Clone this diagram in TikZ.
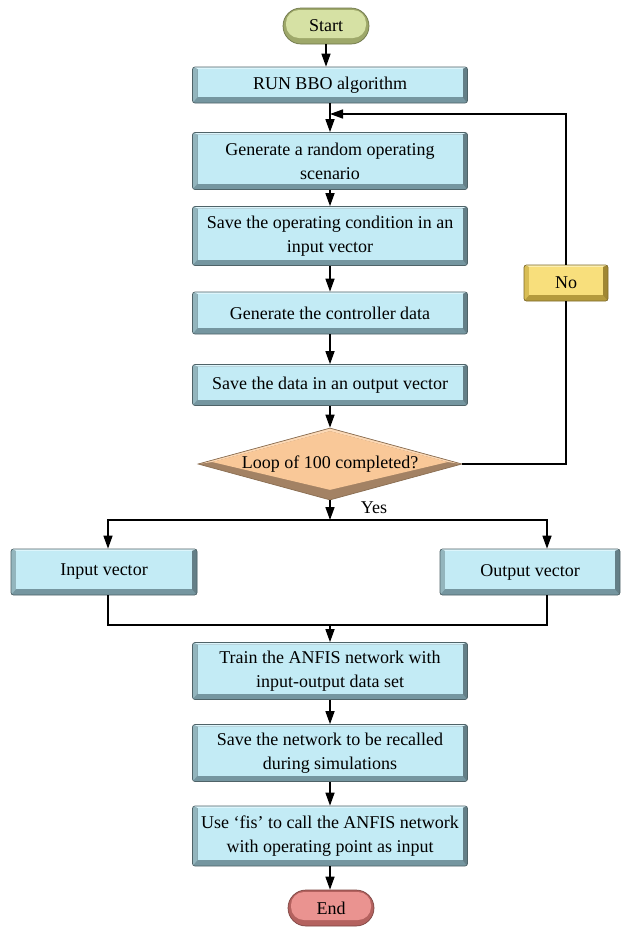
\documentclass[tikz,border=0pt]{standalone}
\usepackage{fontspec}
\setmainfont{Liberation Serif}
\usetikzlibrary{calc,shapes.geometric,shapes.misc,arrows.meta}

% palette
\definecolor{cyanface}{HTML}{C3EBF5}
\definecolor{cyantop}{HTML}{DDF5FB}
\definecolor{cyanleft}{HTML}{93B5BD}
\definecolor{cyanright}{HTML}{647F87}
\definecolor{cyanbottom}{HTML}{7596A0}
\definecolor{cyanedge}{HTML}{4F6368}
\definecolor{yelface}{HTML}{F8DF7C}
\definecolor{yeltop}{HTML}{FCEFB2}
\definecolor{yelleft}{HTML}{D8BD55}
\definecolor{yelright}{HTML}{A08733}
\definecolor{yelbottom}{HTML}{B49A3D}
\definecolor{yeledge}{HTML}{7E6A2A}
\definecolor{diaface}{HTML}{F9C898}
\definecolor{diatop}{HTML}{FCD9B6}
\definecolor{diabottom}{HTML}{A38264}
\definecolor{diaedge}{HTML}{8A6E52}
\definecolor{startface}{HTML}{D6E1A4}
\definecolor{startdark}{HTML}{9EA86A}
\definecolor{startedge}{HTML}{6E7648}
\definecolor{endface}{HTML}{EA9390}
\definecolor{enddark}{HTML}{B4625F}
\definecolor{endedge}{HTML}{7E4441}

\tikzset{
  x=1pt, y=-1pt,
  every node/.style={font=\fontsize{18}{24}\selectfont, align=center, inner sep=0pt},
  % bevelled process box: face, top, left, right, bottom, outline
  bevelbox/.style n args={6}{rectangle, rounded corners=2.5pt, draw=#6, line width=0.7pt,
    fill=#5, minimum width=275pt,
    path picture={
      \path (path picture bounding box.north west) coordinate (pNW)
            (path picture bounding box.north east) coordinate (pNE)
            (path picture bounding box.south west) coordinate (pSW)
            (path picture bounding box.south east) coordinate (pSE);
      \fill[#2, sharp corners] (pNW) -- (pNE) -- ([shift={(-5pt,-2pt)}]pNE) -- ([shift={(5pt,-2pt)}]pNW) -- cycle;
      \fill[#3, sharp corners] (pNW) -- (pSW) -- ([shift={(5pt,6pt)}]pSW) -- ([shift={(5pt,-2pt)}]pNW) -- cycle;
      \fill[#4, sharp corners] (pNE) -- (pSE) -- ([shift={(-5pt,6pt)}]pSE) -- ([shift={(-5pt,-2pt)}]pNE) -- cycle;
      \fill[#1, sharp corners] ([shift={(5pt,-2pt)}]pNW) rectangle ([shift={(-5pt,6pt)}]pSE);
    }},
  procbox/.style={bevelbox={cyanface}{cyantop}{cyanleft}{cyanright}{cyanbottom}{cyanedge}},
  nobox/.style={bevelbox={yelface}{yeltop}{yelleft}{yelright}{yelbottom}{yeledge},
    minimum width=84pt, minimum height=36pt},
  % rounded terminal: face, dark rim, outline
  terminal/.style n args={3}{rounded rectangle, draw=#3, line width=0.7pt, fill=#2,
    minimum width=86pt, minimum height=36pt,
    path picture={
      \fill[#1, rounded corners=13pt] ([shift={(3pt,-2pt)}]path picture bounding box.north west)
        rectangle ([shift={(-3pt,6pt)}]path picture bounding box.south east);
    }},
  decision/.style={diamond, aspect=3.67, draw=diaedge, line width=0.7pt, fill=diabottom,
    minimum width=264pt, minimum height=72pt,
    path picture={
      \path (path picture bounding box.north) coordinate (dN)
            (path picture bounding box.south) coordinate (dS)
            (path picture bounding box.east) coordinate (dE)
            (path picture bounding box.west) coordinate (dW);
      \fill[diatop] (dW) -- (dN) -- (dE) -- ([shift={(-14pt,2pt)}]dE) -- ([yshift=-3pt]dN) -- ([shift={(14pt,2pt)}]dW) -- cycle;
      \fill[diaface] ([shift={(14pt,2pt)}]dW) -- ([yshift=-3pt]dN) -- ([shift={(-14pt,2pt)}]dE) -- ([yshift=10pt]dS) -- cycle;
    }},
  link/.style={line width=1.5pt, draw=black},
  flow/.style={link, -{Triangle[length=13pt,width=9pt]}},
}

\begin{document}
\begin{tikzpicture}
  \useasboundingbox[fill=white] (0,0) rectangle (621,927);

  % main column
  \node[terminal={startface}{startdark}{startedge}] (start) at (326,26) {Start};
  \node[procbox, minimum height=36pt] (run) at (330,85) {RUN BBO algorithm};
  \node[procbox, minimum height=57pt] (gen) at (330,161) {Generate a random operating\\scenario};
  \node[procbox, minimum height=59pt] (saveop) at (330,236) {Save the operating condition in an\\input vector};
  \node[procbox, minimum height=42pt] (genctl) at (330,313) {Generate the controller data};
  \node[procbox, minimum height=41pt] (savedat) at (330,385) {Save the data in an output vector};
  \node[decision] (loop) at (330,464) {Loop of 100 completed?};
  \node[nobox] (no) at (566,283) {No};

  % split into the two data vectors
  \node[procbox, minimum width=186pt, minimum height=46pt] (invec) at (104,572) {Input vector};
  \node[procbox, minimum width=180pt, minimum height=46pt] (outvec) at (530,572) {Output vector};

  \node[procbox, minimum height=57pt] (train) at (330,671) {Train the ANFIS network with\\input-output data set};
  \node[procbox, minimum height=57pt] (savenet) at (330,753) {Save the network to be recalled\\during simulations};
  \node[procbox, minimum height=60pt] (usefis) at (330,836) {Use ‘fis’ to call the ANFIS network\\with operating point as input};
  \node[terminal={endface}{enddark}{endedge}] (stop) at (331,908) {End};

  \node (yes) at (374,508) {Yes};

  \coordinate (rejoin) at (330,114);
  \coordinate (split) at (330,520);
  \coordinate (merge) at (330,625);

  % connectors
  \draw[flow] (start.south) -- (start.south |- run.north);
  \draw[flow] (run) -- (gen);
  \draw[flow] (gen) -- (saveop);
  \draw[flow] (saveop) -- (genctl);
  \draw[flow] (genctl) -- (savedat);
  \draw[flow] (savedat) -- (loop);
  \draw[link] (loop.east) -| (no.south);
  \draw[flow] (no.north) |- (rejoin);
  \draw[flow] (loop.south) -- (split);
  \draw[flow] (split) -| ([xshift=4pt]invec.north);
  \draw[flow] (split) -| ([xshift=17pt]outvec.north);
  \draw[link] ([xshift=4pt]invec.south) |- (merge);
  \draw[link] ([xshift=17pt]outvec.south) |- (merge);
  \draw[flow] (merge) -- (train);
  \draw[flow] (train) -- (savenet);
  \draw[flow] (savenet) -- (usefis);
  \draw[flow] (usefis.south) -- (usefis.south |- stop.north);
\end{tikzpicture}
\end{document}
